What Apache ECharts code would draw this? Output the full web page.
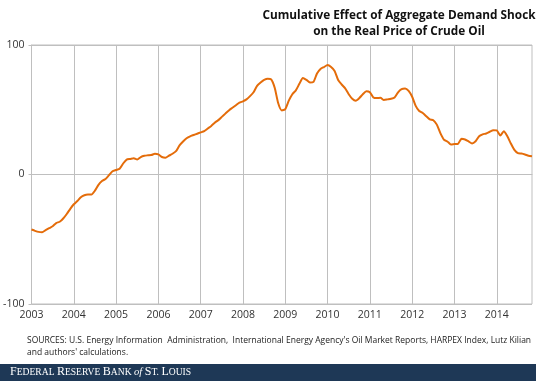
<!DOCTYPE html>
<html>
<head>
<meta charset="utf-8">
<script src="https://cdn.jsdelivr.net/npm/echarts@6/dist/echarts.min.js"></script>
<style>
html,body{margin:0;padding:0;background:#fff;}
#c{width:536px;height:382px;}
</style>
</head>
<body>
<div id="c"></div>
<script>
// Monthly data, Jan 2003 – Nov 2014
var startYear = 2003;
var yearLabels = ["2003","2004","2005","2006","2007","2008","2009","2010","2011","2012","2013","2014"];
var yTicks = [-100, 0, 100];
var effect = [
  -42.5,-43.5,-44.3,-44.5,-43,-41.5,-40,-37.5,-36.5,-34,-30.5,-26.5,
  -23,-20.5,-17.5,-16,-15.5,-15.5,-12.5,-8,-5,-3.5,-0.5,2.5,
  3.5,4.5,8.5,11.5,12,12.6,11.5,13.5,14.5,14.8,15,16,
  15.5,13.5,13,14.5,16,18,22.5,25.5,28,29.5,30.5,31.5,
  32.5,33.5,35.5,37.5,40,42,44.5,47,49.5,51.5,53.5,55.5,
  56.5,58,60.5,63.5,68.5,71,73,74,73.5,67,55,49.5,
  50.5,57,62,65,70,74.5,73,71,71.5,78,81.5,83,
  84.5,83,80,73,69.5,66.5,62,58.5,57,59,62,64.3,
  63.5,59.5,59,59.2,57.5,58,58.5,59.5,63.5,66,66.5,64.5,
  60,53,49,47.5,45,42.5,41.9,38.5,32,27,25.5,23.2,
  23.5,23.7,27.6,27,25.5,24,25.7,29.5,31,31.7,33,34.2,
  34,30.1,33.4,29.5,24,19,16.5,16.2,15.5,14.5,14.1
];
var months = effect.map(function(v, i){
  var y = startYear + Math.floor(i / 12);
  var m = (i % 12) + 1;
  return y + "-" + (m < 10 ? "0" + m : m);
});
var titleLines = ["Cumulative Effect of Aggregate Demand Shock", "on the Real Price of Crude Oil"];
var sourceLines = ["SOURCES: U.S. Energy Information  Administration,  International Energy Agency's Oil Market Reports, HARPEX Index, Lutz Kilian", "and authors' calculations."];

var chart = echarts.init(document.getElementById('c'), null, {renderer: 'canvas'});
var gridColor = '#bfbfbf';
var isYearStart = function(idx){ return idx % 12 === 0; };

chart.setOption({
  animation: false,
  backgroundColor: '#fff',
  title: {
    text: titleLines.join('\n'),
    left: 394,
    top: 3,
    textAlign: 'center',
    textStyle: {fontFamily: 'Open Sans', fontWeight: 'bold', fontSize: 11.8, color: '#111', lineHeight: 15.5}
  },
  grid: {left: 31.5, right: 4, top: 45, bottom: 78, show: true, borderColor: gridColor, borderWidth: 1},
  xAxis: {
    type: 'category',
    data: months,
    boundaryGap: false,
    axisLine: {show: true, lineStyle: {color: gridColor}},
    axisTick: {show: true, interval: isYearStart, length: 4, lineStyle: {color: gridColor}},
    splitLine: {show: true, interval: isYearStart, lineStyle: {color: gridColor, width: 1}},
    axisLabel: {
      interval: isYearStart,
      formatter: function(v){ return v.slice(0,4); },
      fontFamily: 'Open Sans', fontSize: 10.5, color: '#333', margin: 6
    }
  },
  yAxis: {
    type: 'value',
    min: yTicks[0], max: yTicks[yTicks.length-1], interval: 100,
    axisLine: {show: true, lineStyle: {color: gridColor}},
    axisTick: {show: true, length: 3, lineStyle: {color: gridColor}},
    splitLine: {show: true, lineStyle: {color: gridColor, width: 1}},
    axisLabel: {fontFamily: 'Open Sans', fontSize: 10.5, color: '#333', margin: 7}
  },
  series: [{
    type: 'line',
    data: effect,
    showSymbol: false,
    smooth: 0.2,
    lineStyle: {color: '#E46C0A', width: 2},
    itemStyle: {color: '#E46C0A'}
  }],
  graphic: [
    {type: 'text', left: 27, top: 334, style: {text: sourceLines.join('\n'), font: '8.5px "Open Sans"', fill: '#222', lineHeight: 12.5}},
    {type: 'rect', shape: {x: 0, y: 364, width: 536, height: 17}, style: {fill: '#1e3856'}},
    {type: 'text', left: 10, top: 366, style: {
      rich: {
        b: {fontFamily: 'Liberation Serif', fontSize: 12, fill: '#fff'},
        s: {fontFamily: 'Liberation Serif', fontSize: 9.6, fill: '#fff'},
        i: {fontFamily: 'Liberation Serif', fontSize: 10.5, fontStyle: 'italic', fill: '#fff'}
      },
      text: '{b|F}{s|EDERAL }{b|R}{s|ESERVE }{b|B}{s|ANK }{i|of }{b|S}{s|T. }{b|L}{s|OUIS}'
    }}
  ]
});
</script>
</body>
</html>
